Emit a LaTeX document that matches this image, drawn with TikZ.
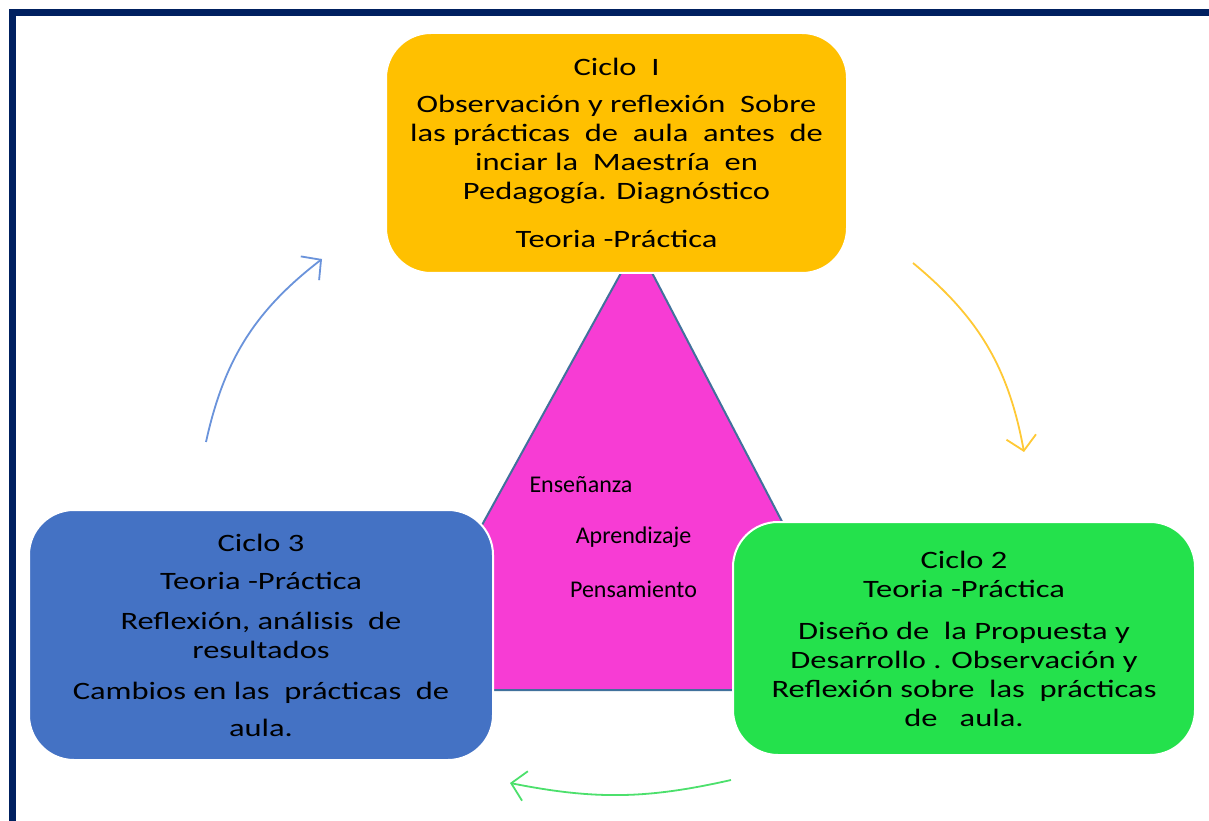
\documentclass[tikz,border=0pt]{standalone}
\usepackage{fontspec}
\setmainfont{Carlito}[FakeStretch=1.3]
\newfontfamily\palabrafont{Carlito}
\usetikzlibrary{arrows.meta}
\definecolor{marco}{HTML}{002060}
\definecolor{amarillo}{HTML}{FFC000}
\definecolor{azul}{HTML}{4472C4}
\definecolor{verde}{HTML}{24E14C}
\definecolor{rosa}{HTML}{F73CD4}
\definecolor{borde}{HTML}{41719C}
\definecolor{flechaazul}{HTML}{6A93DB}
\definecolor{flechaamarilla}{HTML}{FFC935}
\definecolor{flechaverde}{HTML}{4CE06C}
\begin{document}
\begin{tikzpicture}[x=1pt,y=1pt,
  ciclo/.style={rounded corners=45pt, draw=white, line width=2pt, inner sep=0pt,
    align=center, font=\fontsize{25}{29}\selectfont},
  palabra/.style={font=\palabrafont\fontsize{24}{28}\selectfont},
  flecha/.style={line width=1.8pt, -{Straight Barb[length=14pt,width=30pt,line width=1.8pt]}}]
  \useasboundingbox (0,0) rectangle (1209,820);
  \fill[white] (0,0) rectangle (1209,820);
  \draw[marco, line width=7pt] (12.5,-20) -- (12.5,807.5) -- (1240,807.5);
  % Triangle behind the three cycles
  \coordinate (cima) at (637,576);
  \coordinate (izq) at (391,130);
  \coordinate (der) at (870,130);
  \filldraw[fill=rosa, draw=borde, line width=2pt] (cima) -- (der) -- (izq) -- cycle;
  \node[palabra] (ensenanza) at (581,335) {Enseñanza};
  \node[palabra] (aprendizaje) at (633.5,283) {Aprendizaje};
  \node[palabra] (pensamiento) at (633.5,231) {Pensamiento};
  % The three cycles
  \node[ciclo, fill=amarillo, minimum width=461pt, minimum height=240pt] (ciclo1) at (616.5,667)
    {Ciclo\ \ I\\[8pt]
     Observación y reflexión\ \ Sobre\\
     las prácticas\ \ de\ \ aula\ \ antes\ \ de\\
     inciar la\ \ Maestría\ \ en\\
     Pedagogía. Diagnóstico\\[19pt]
     Teoria -Práctica};
  \node[ciclo, fill=verde, minimum width=462pt, minimum height=233pt] (ciclo2) at (964,181.5)
    {Ciclo\ 2\\
     Teoria -Práctica\\[13pt]
     Diseño de\ \ la Propuesta y\\
     Desarrollo . Observación y\\
     Reflexión sobre\ \ las\ \ prácticas\\
     de\ \ \ aula.};
  \node[ciclo, fill=azul, minimum width=464pt, minimum height=250pt] (ciclo3) at (261,185)
    {Ciclo 3\\[9pt]
     Teoria -Práctica\\[11pt]
     Reflexión, análisis\ \ de\\
     resultados\\[12pt]
     Cambios en las\ \ prácticas\ \ de\\[8pt]
     aula.};
  % Arrows between the cycles
  \coordinate (a1) at (913,557);
  \coordinate (b1) at (1024,368);
  \coordinate (a2) at (731,40);
  \coordinate (b2) at (510,37);
  \coordinate (a3) at (206,378);
  \coordinate (b3) at (322,561);
  \draw[flecha, flechaamarilla] (a1) to[bend left=20] (b1);
  \draw[flecha, flechaverde] (a2) to[bend left=12] (b2);
  \draw[flecha, flechaazul] (a3) to[bend left=20] (b3);
\end{tikzpicture}
\end{document}
